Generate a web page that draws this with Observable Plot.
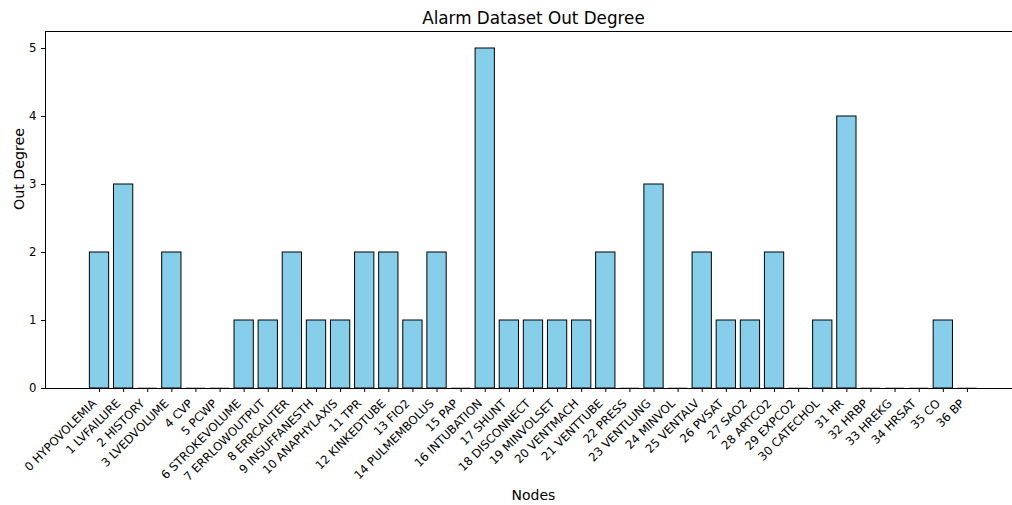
<!DOCTYPE html>
<html>
<head>
<meta charset="utf-8">
<script src="https://cdn.jsdelivr.net/npm/d3@7"></script>
<script src="https://cdn.jsdelivr.net/npm/@observablehq/plot@0.6"></script>
<style>
  html, body { margin: 0; padding: 0; background: #fff; }
  #chart svg { display: block; }
</style>
</head>
<body>
<div id="chart"></div>
<script>
const nodes = ["HYPOVOLEMIA","LVFAILURE","HISTORY","LVEDVOLUME","CVP","PCWP","STROKEVOLUME","ERRLOWOUTPUT","ERRCAUTER","INSUFFANESTH","ANAPHYLAXIS","TPR","KINKEDTUBE","FIO2","PULMEMBOLUS","PAP","INTUBATION","SHUNT","DISCONNECT","MINVOLSET","VENTMACH","VENTTUBE","PRESS","VENTLUNG","MINVOL","VENTALV","PVSAT","SAO2","ARTCO2","EXPCO2","CATECHOL","HR","HRBP","HREKG","HRSAT","CO","BP"];
const outDegree = [2,3,0,2,0,0,1,1,2,1,1,2,2,1,2,0,5,1,1,1,1,2,0,3,0,2,1,1,2,0,1,4,0,0,0,1,0];
const yTicks = [0,1,2,3,4,5];

const data = nodes.map((n, i) => ({i, label: `${i} ${n}`, v: outDegree[i]}));
const idx = data.map(d => d.i);
const font = "DejaVu Sans, sans-serif";

const chart = Plot.plot({
  width: 1012,
  height: 505,
  marginLeft: 45,
  marginRight: 0,
  marginTop: 31,
  marginBottom: 117,
  style: {fontFamily: font, fontSize: "11.7px", color: "#000", background: "#fff"},
  x: {domain: [-2.24, 37.87], axis: null},
  y: {domain: [0, 5.25], axis: null},
  marks: [
    Plot.rectY(data, {x1: d => d.i - 0.4, x2: d => d.i + 0.4, y1: 0, y2: "v", fill: "#87CEEB", stroke: "#000", strokeWidth: 1}),
    Plot.ruleY(data.filter(d => d.v === 0), {x1: d => d.i - 0.4, x2: d => d.i + 0.4, y: 0, dy: -1, stroke: "#bbb", strokeWidth: 1}),
    Plot.ruleY([0], {stroke: "#000", strokeWidth: 1}),
    Plot.ruleY([5.25], {stroke: "#000", strokeWidth: 1}),
    Plot.ruleX([-2.24], {stroke: "#000", strokeWidth: 1}),
    Plot.axisX({ticks: idx, tickSize: 4, tickFormat: () => "", stroke: "#000", label: null}),
    Plot.text(data, {x: "i", y: 0, text: "label", rotate: -45, textAnchor: "end", lineAnchor: "middle", dx: -5, dy: 13, fontSize: 11.7, fill: "#000"}),
    Plot.axisY({ticks: yTicks, tickSize: 4, tickPadding: 5, tickFormat: d => String(d), fontSize: 11.7, stroke: "#000", label: null}),
    Plot.text(["Out Degree"], {frameAnchor: "left", rotate: -90, dx: -26, fontSize: 14.2, fill: "#000"}),
    Plot.text(["Nodes"], {x: 18, y: 0, dy: 107, lineAnchor: "middle", fontSize: 14, fill: "#000"}),
    Plot.text(["Alarm Dataset Out Degree"], {x: 18, frameAnchor: "top", dy: -13, lineAnchor: "middle", fontSize: 16.8, fill: "#000"})
  ]
});
document.getElementById("chart").appendChild(chart);
</script>
</body>
</html>
